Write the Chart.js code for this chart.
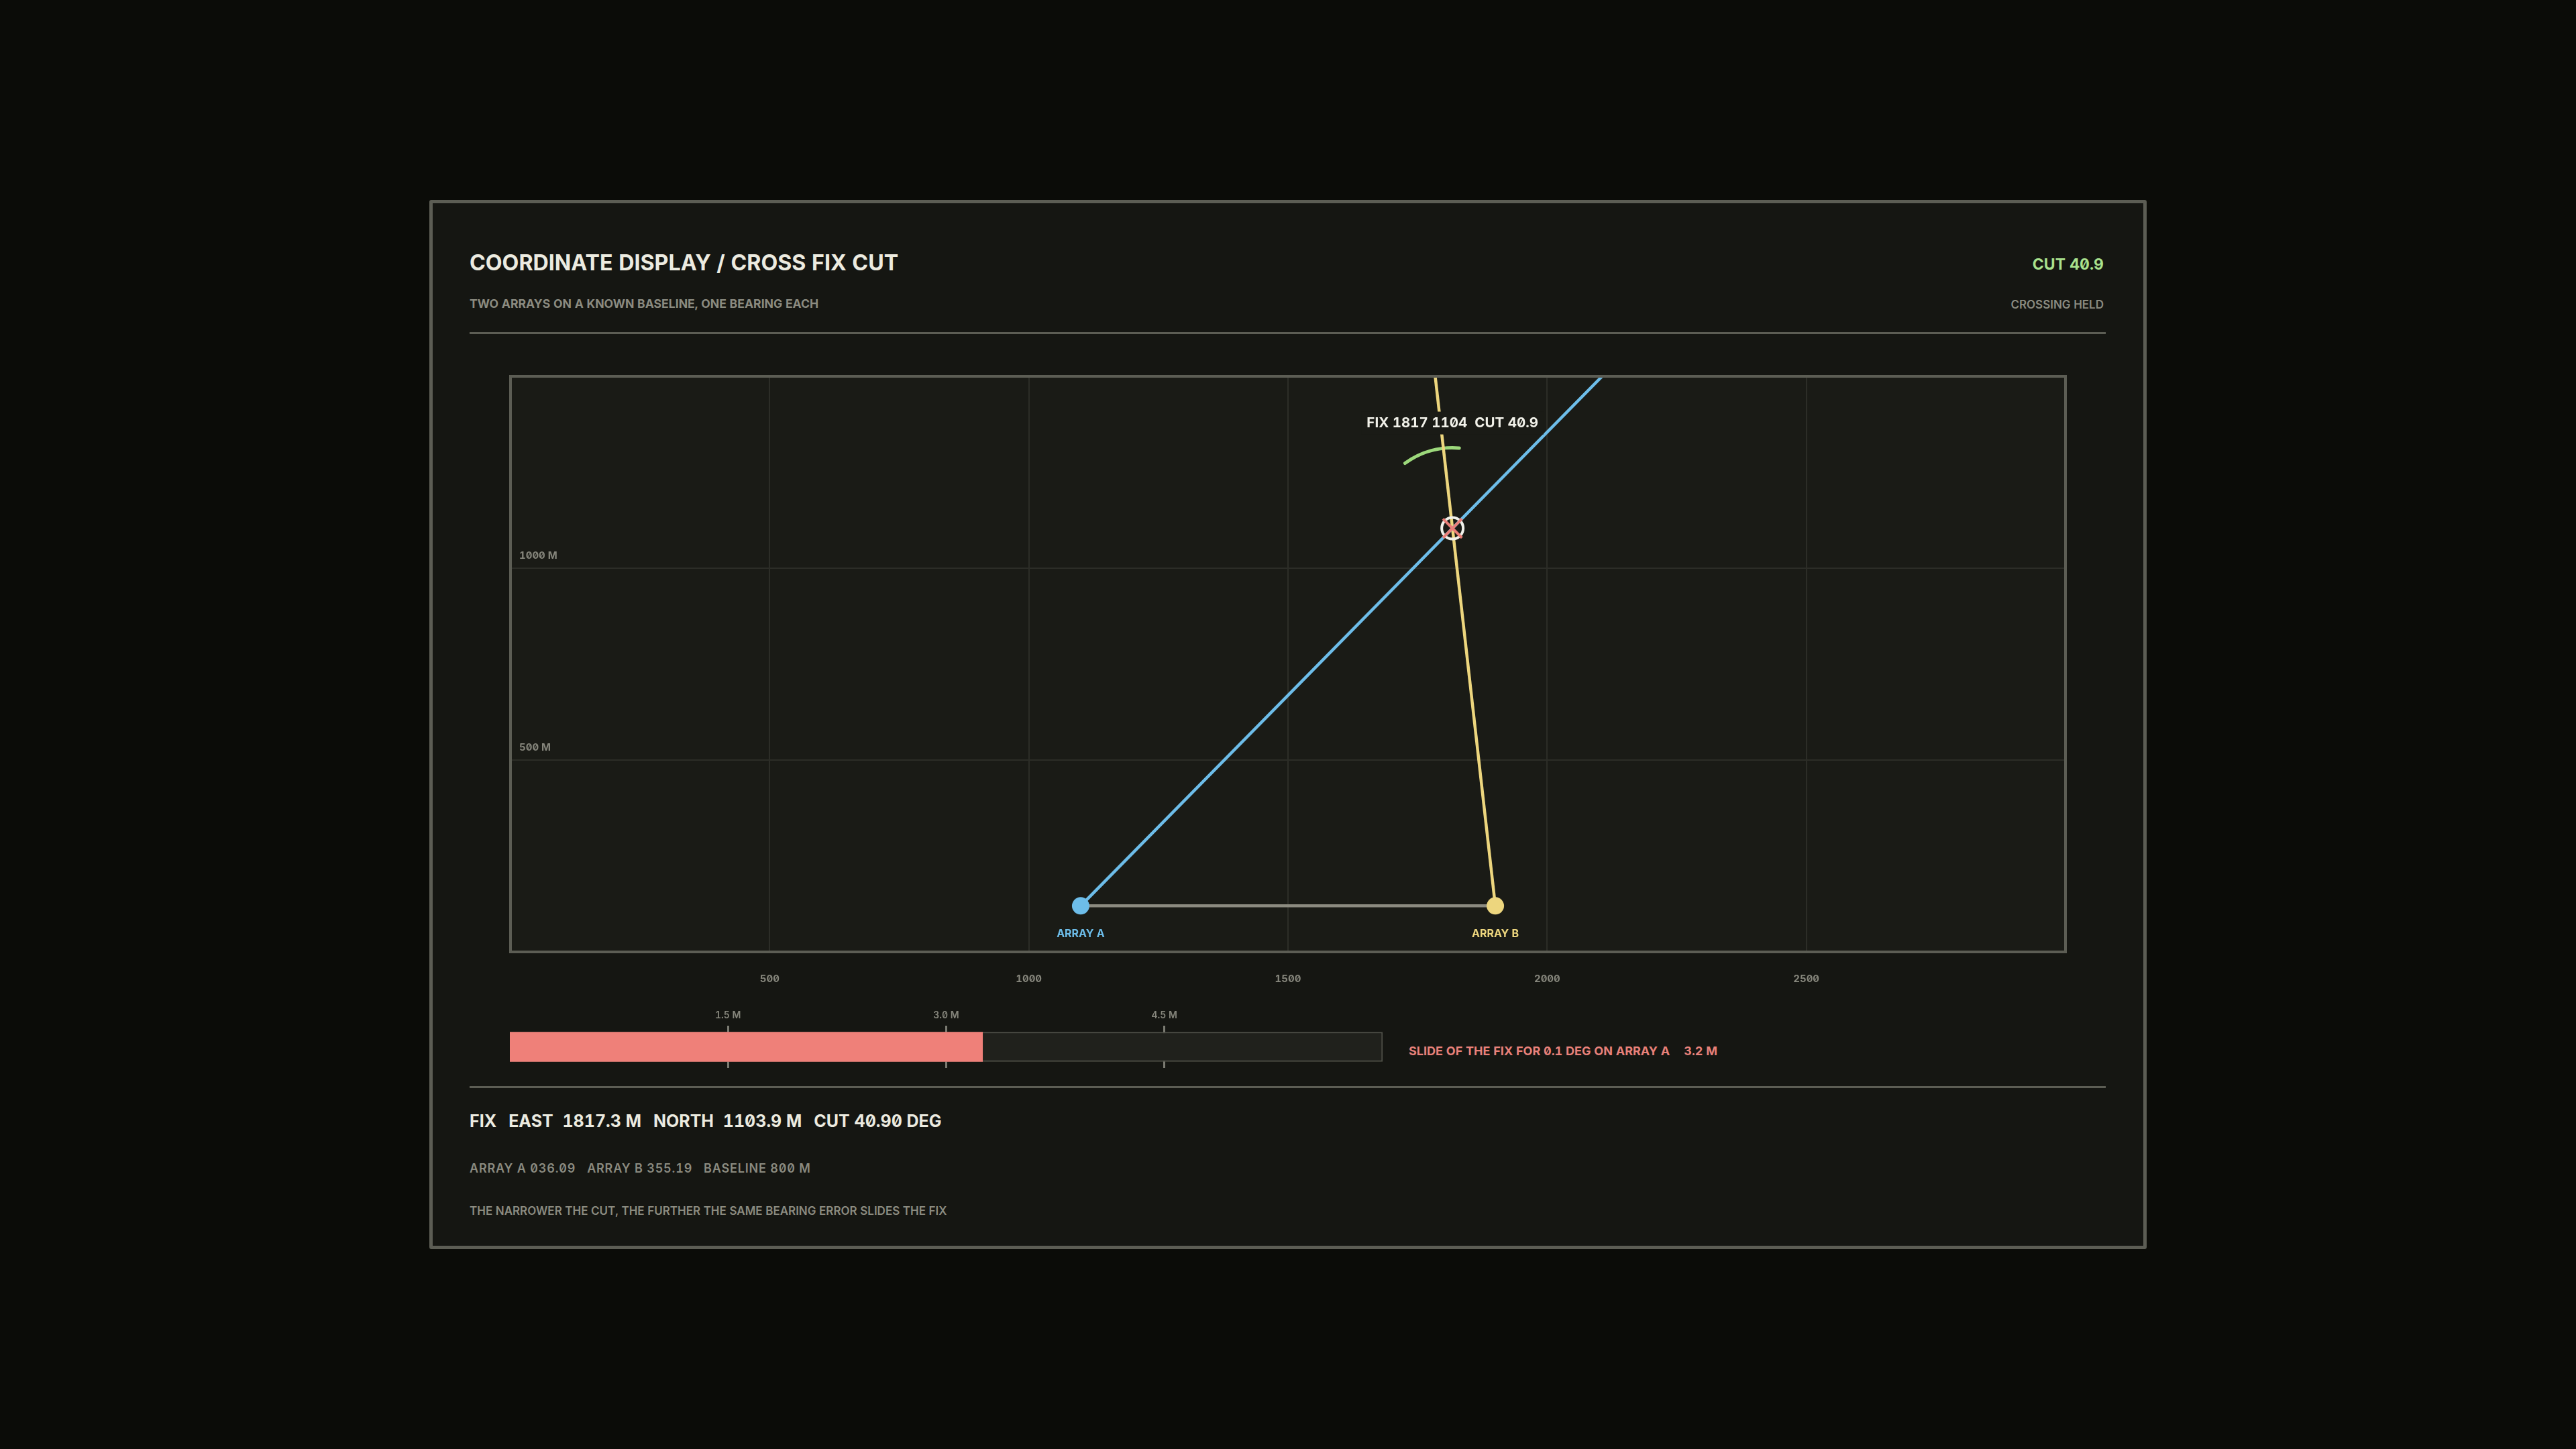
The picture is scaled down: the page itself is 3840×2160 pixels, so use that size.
<!DOCTYPE html>
<html>
<head>
<meta charset="utf-8">
<title>Coordinate display / cross fix cut</title>
<script src="https://cdn.jsdelivr.net/npm/chart.js@4.4.1/dist/chart.umd.min.js"></script>
<style>
  html, body { margin: 0; padding: 0; background: #0b0c08; }
  body {
    width: 3840px; height: 2160px; position: relative; overflow: hidden;
    font-family: Inter, 'Noto Sans', sans-serif;
    font-variant-numeric: tabular-nums slashed-zero;
  }
  .panel {
    position: absolute; left: 640px; top: 298px; width: 2550px; height: 1554px;
    border: 5px solid #5c5d54; border-radius: 3px; background: #151612;
  }
  .t { position: absolute; line-height: 1; white-space: pre; }
  .rule { position: absolute; left: 700px; width: 2439px; height: 3px; background: #5c5d54; }
  .title { left: 700px; top: 376px; font-size: 32.2px; font-weight: 700; color: #ecebe0; }
  .sub { left: 700px; top: 444px; font-size: 17.6px; font-weight: 700; color: #8b8b80; }
  .cut { right: 704px; top: 383px; font-size: 23px; font-weight: 700; color: #a9e28d; }
  .held { right: 704px; top: 446px; font-size: 17px; font-weight: 600; color: #8b8b80; }
  .slide { left: 2100px; top: 1558px; font-size: 18px; font-weight: 700; color: #e8817a; }
  .f1 { left: 700px; top: 1659px; font-size: 25px; font-weight: 700; color: #ecebe0; }
  .f2 { left: 700px; top: 1733px; font-size: 18px; font-weight: 600; color: #8b8b80; letter-spacing: 0.8px; }
  .f3 { left: 700px; top: 1797px; font-size: 17px; font-weight: 600; color: #8b8b80; }
  .g { margin-left: 18px; }
  .k { margin-right: 7px; }
  .s { margin-left: 17px; }
  #plotWrap { position: absolute; left: 755px; top: 555px; width: 2330px; height: 950px; }
  #slideWrap { position: absolute; left: 754px; top: 1490px; width: 1313px; height: 102px; }
</style>
</head>
<body>
<div class="panel"></div>
<div class="t title">COORDINATE DISPLAY / CROSS FIX CUT</div>
<div class="t sub">TWO ARRAYS ON A KNOWN BASELINE, ONE BEARING EACH</div>
<div class="t cut">CUT 40.9</div>
<div class="t held">CROSSING HELD</div>
<div class="rule" style="top:495px"></div>

<div id="plotWrap"><canvas id="plotChart"></canvas></div>
<div id="slideWrap"><canvas id="slideChart"></canvas></div>
<div class="t slide">SLIDE OF THE FIX FOR 0.1 DEG ON ARRAY A<span style="margin-left:21px">3.2 M</span></div>

<div class="rule" style="top:1619px"></div>
<div class="t f1">FIX<span class="g"><span class="k">EAST</span> 1817.3 M</span><span class="g"><span class="k">NORTH</span> 1103.9 M</span><span class="g">CUT 40.90 DEG</span></div>
<div class="t f2">ARRAY A 036.09<span class="s">ARRAY B 355.19</span><span class="s">BASELINE 800 M</span></div>
<div class="t f3">THE NARROWER THE CUT, THE FURTHER THE SAME BEARING ERROR SLIDES THE FIX</div>

<script>
// positions in metres, east / north
const arrayA = [{ x: 1100, y: 120 }]
const arrayB = [{ x: 1900, y: 120 }]
const fixPoint = [{ x: 1817.3, y: 1103.9 }]
const bearingLineA = [{ x: 1100, y: 120 }, { x: 2106, y: 1500 }]
const bearingLineB = [{ x: 1900, y: 120 }, { x: 1784, y: 1500 }]
const baseline = [{ x: 1100, y: 120 }, { x: 1900, y: 120 }]
const bearingsDeg = [36.09, 355.19]
const arrayLabels = ['ARRAY A', 'ARRAY B']
const fixLabel = 'FIX 1817 1104  CUT 40.9'

const xTicks = [500, 1000, 1500, 2000, 2500]
const yTicks = [500, 1000]
const yTickLabels = ['500 M', '1000 M']

const slideTicks = [1.5, 3.0, 4.5]
const slideTickLabels = ['1.5 M', '3.0 M', '4.5 M']
const slideValue = [3.25]
const slideMax = [6]

const BLUE = '#6dbde9'
const YELLOW = '#edd67e'
const RED = '#ea7f78'
const GREEN = '#9cd87b'
const GRID = '#2c2d27'
const FRAME = '#5c5d54'
const PLOT_BG = '#1a1b16'
const TICK_TXT = '#86867c'

Chart.defaults.font.family = 'Inter, "Noto Sans", sans-serif'

const plotDecor = {
    id: 'plotDecor',
    beforeDraw(chart) {
        const { ctx, chartArea: a } = chart
        ctx.save()
        ctx.fillStyle = PLOT_BG
        ctx.fillRect(a.left, a.top, a.width, a.height)
        ctx.restore()
    },
    beforeDatasetsDraw(chart) {
        const { ctx, scales: { x, y } } = chart
        const fx = x.getPixelForValue(fixPoint[0].x)
        const fy = y.getPixelForValue(fixPoint[0].y)
        const rad = d => d * Math.PI / 180
        ctx.save()
        ctx.strokeStyle = GREEN
        ctx.lineWidth = 5
        ctx.lineCap = 'round'
        ctx.beginPath()
        ctx.arc(fx, fy, 120, -Math.PI / 2 - rad(bearingsDeg[0]), -Math.PI / 2 - rad(bearingsDeg[1] - 360))
        ctx.stroke()
        ctx.restore()
    },
    afterDatasetsDraw(chart) {
        const { ctx, chartArea: a, scales: { x, y } } = chart
        const fx = x.getPixelForValue(fixPoint[0].x)
        const fy = y.getPixelForValue(fixPoint[0].y)
        ctx.save()
        // fix label on a cut-out
        ctx.font = '700 20.5px Inter, "Noto Sans", sans-serif'
        const w = ctx.measureText(fixLabel).width
        const ly = fy - 157
        ctx.fillStyle = PLOT_BG
        ctx.fillRect(fx - w / 2 - 8, ly - 17, w + 16, 34)
        ctx.fillStyle = '#f2f2ea'
        ctx.textAlign = 'center'
        ctx.textBaseline = 'middle'
        ctx.fillText(fixLabel, fx, ly)

        // array names
        ctx.font = '700 16px Inter, "Noto Sans", sans-serif'
        const arrays = [arrayA[0], arrayB[0]]
        const cols = [BLUE, YELLOW]
        arrays.forEach((p, i) => {
            ctx.fillStyle = cols[i]
            ctx.fillText(arrayLabels[i], x.getPixelForValue(p.x), y.getPixelForValue(p.y) + 42)
        })

        // frame
        ctx.strokeStyle = FRAME
        ctx.lineWidth = 4
        ctx.strokeRect(a.left, a.top, a.width, a.height)
        ctx.restore()
    }
}

const lineSet = (data, color, order) => ({
    data, showLine: true, borderColor: color, borderWidth: 4.5,
    pointRadius: 0, fill: false, order
})

new Chart(document.getElementById('plotChart'), {
    type: 'scatter',
    data: {
        datasets: [
            lineSet(bearingLineA, BLUE, 4),
            lineSet(bearingLineB, YELLOW, 4),
            lineSet(baseline, '#8c8b80', 3),
            { data: arrayA, pointRadius: 13, backgroundColor: BLUE, borderWidth: 0, order: 2 },
            { data: arrayB, pointRadius: 13, backgroundColor: YELLOW, borderWidth: 0, order: 2 },
            { data: fixPoint, pointRadius: 16, pointStyle: 'circle', backgroundColor: 'rgba(0,0,0,0)', borderColor: '#f1f1ea', borderWidth: 4, order: 1 },
            { data: fixPoint, pointRadius: 20, pointStyle: 'crossRot', borderColor: RED, borderWidth: 4, order: 0 }
        ]
    },
    options: {
        responsive: true,
        maintainAspectRatio: false,
        animation: false,
        events: [],
        layout: { autoPadding: false, padding: { left: 6, right: 6, top: 6, bottom: 0 } },
        plugins: { legend: { display: false }, tooltip: { enabled: false } },
        scales: {
            x: {
                type: 'linear', min: 0, max: 3000,
                afterBuildTicks: s => { s.ticks = xTicks.map(v => ({ value: v })) },
                afterFit: s => { s.height = 86; s.paddingLeft = 0; s.paddingRight = 0 },
                grid: { color: GRID, lineWidth: 2, drawTicks: false },
                border: { display: false },
                ticks: { color: TICK_TXT, font: { size: 15, weight: 700 }, padding: 31, maxRotation: 0, callback: v => String(v) }
            },
            y: {
                type: 'linear', min: 0, max: 1500,
                afterBuildTicks: s => { s.ticks = yTicks.map(v => ({ value: v })) },
                afterFit: s => { s.width = 0; s.paddingTop = 0; s.paddingBottom = 0 },
                grid: { color: GRID, lineWidth: 2, drawTicks: false },
                border: { display: false },
                ticks: {
                    mirror: true, padding: 13, labelOffset: -19,
                    color: TICK_TXT, font: { size: 15, weight: 700 },
                    callback: v => yTickLabels[yTicks.indexOf(v)]
                }
            }
        }
    },
    plugins: [plotDecor]
})

new Chart(document.getElementById('slideChart'), {
    type: 'bar',
    data: {
        labels: ['slide'],
        datasets: [
            { data: slideValue, backgroundColor: '#ef8079', borderWidth: 0, barThickness: 44, grouped: false, order: 0 },
            { data: slideMax, backgroundColor: '#20211c', borderColor: '#4f5048', borderWidth: 2, borderSkipped: false, barThickness: 44, grouped: false, order: 1 }
        ]
    },
    options: {
        indexAxis: 'y',
        responsive: true,
        maintainAspectRatio: false,
        animation: false,
        events: [],
        layout: { autoPadding: false, padding: { left: 6, right: 6, top: 0, bottom: 0 } },
        plugins: { legend: { display: false }, tooltip: { enabled: false } },
        scales: {
            x: {
                position: 'top', min: 0, max: 6, z: 1,
                afterBuildTicks: s => { s.ticks = slideTicks.map(v => ({ value: v })) },
                afterFit: s => { s.height = 39; s.paddingLeft = 0; s.paddingRight = 0 },
                grid: { color: '#7b7b72', lineWidth: 3, drawTicks: false },
                border: { display: false },
                ticks: {
                    padding: 7, color: TICK_TXT, font: { size: 14, weight: 600 }, maxRotation: 0,
                    callback: v => slideTickLabels[slideTicks.indexOf(v)]
                }
            },
            y: { display: false }
        }
    }
})
</script>
</body>
</html>
